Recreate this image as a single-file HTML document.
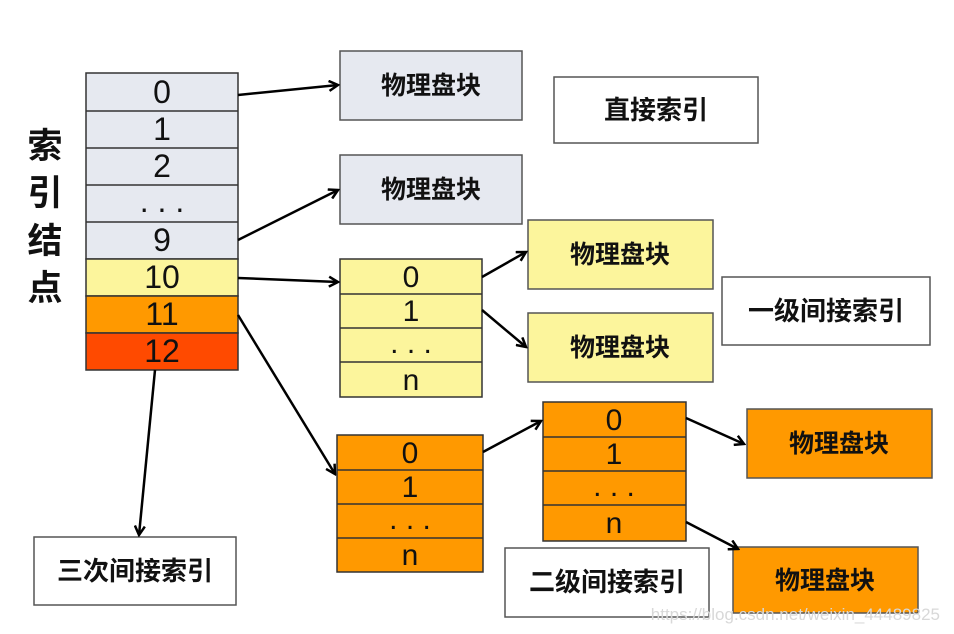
<!DOCTYPE html>
<html><head><meta charset="utf-8"><style>
html,body{margin:0;padding:0;background:#fff;}
svg{display:block;}
text{font-family:"Liberation Sans","Noto Sans CJK SC",sans-serif;fill:#111;}
.c{font-weight:bold;}
</style></head><body>
<svg width="954" height="634" viewBox="0 0 954 634" xmlns="http://www.w3.org/2000/svg">
<defs>
<marker id="a" markerWidth="12" markerHeight="12" refX="10" refY="6" orient="auto" markerUnits="userSpaceOnUse">
<path d="M1,1 L10,6 L1,11" fill="none" stroke="#000" stroke-width="2.5"/>
</marker>
</defs>
<rect width="954" height="634" fill="#fff"/>
<g font-size="35" text-anchor="middle" class="c">
<text x="45" y="158">索</text><text x="45" y="205">引</text><text x="45" y="253">结</text><text x="45" y="300">点</text>
</g>
<g stroke="#333" stroke-width="1.5">
<rect x="86" y="73" width="152" height="186" fill="#e6e9f0"/>
<line x1="86" y1="111" x2="238" y2="111"/><line x1="86" y1="148" x2="238" y2="148"/>
<line x1="86" y1="185" x2="238" y2="185"/><line x1="86" y1="222" x2="238" y2="222"/>
<rect x="86" y="259" width="152" height="37" fill="#fcf59c"/>
<rect x="86" y="296" width="152" height="37" fill="#ff9900"/>
<rect x="86" y="333" width="152" height="37" fill="#ff4a00"/>
</g>
<g font-size="32" text-anchor="middle" font-weight="500">
<text x="162" y="103">0</text><text x="162" y="140">1</text><text x="162" y="177">2</text>
<text x="162" y="212">. . .</text><text x="162" y="251">9</text>
<text x="162" y="288">10</text><text x="162" y="325">11</text><text x="162" y="362">12</text>
</g>
<g stroke="#555" stroke-width="1.5" fill="#e6e9f0">
<rect x="340" y="51" width="182" height="69"/><rect x="340" y="155" width="182" height="69"/>
</g>
<g font-size="25" text-anchor="middle" class="c">
<text x="431" y="94">物理盘块</text><text x="431" y="198">物理盘块</text>
</g>
<g stroke="#555" stroke-width="1.5" fill="#fff">
<rect x="554" y="77" width="204" height="66"/>
<rect x="722" y="277" width="208" height="68"/>
<rect x="505" y="548" width="204" height="69"/>
<rect x="34" y="537" width="202" height="68"/>
</g>
<g font-size="26" text-anchor="middle" class="c">
<text x="656" y="119">直接索引</text>
<text x="826" y="320">一级间接索引</text>
<text x="607" y="591">二级间接索引</text>
<text x="135" y="580">三次间接索引</text>
</g>
<g stroke="#333" stroke-width="1.5">
<rect x="340" y="259" width="142" height="138" fill="#fcf59c"/>
<line x1="340" y1="294" x2="482" y2="294"/><line x1="340" y1="328" x2="482" y2="328"/><line x1="340" y1="362" x2="482" y2="362"/>
</g>
<g font-size="30" text-anchor="middle" font-weight="500">
<text x="411" y="287">0</text><text x="411" y="321">1</text><text x="411" y="353">. . .</text><text x="411" y="390">n</text>
</g>
<g stroke="#555" stroke-width="1.5" fill="#fcf59c">
<rect x="528" y="220" width="185" height="69"/><rect x="528" y="313" width="185" height="69"/>
</g>
<g font-size="25" text-anchor="middle" class="c">
<text x="620" y="263">物理盘块</text><text x="620" y="356">物理盘块</text>
</g>
<g stroke="#333" stroke-width="1.5">
<rect x="337" y="435" width="146" height="137" fill="#ff9900"/>
<line x1="337" y1="470" x2="483" y2="470"/><line x1="337" y1="504" x2="483" y2="504"/><line x1="337" y1="538" x2="483" y2="538"/>
</g>
<g font-size="30" text-anchor="middle" font-weight="500">
<text x="410" y="463">0</text><text x="410" y="497">1</text><text x="410" y="529">. . .</text><text x="410" y="565">n</text>
</g>
<g stroke="#333" stroke-width="1.5">
<rect x="543" y="402" width="143" height="139" fill="#ff9900"/>
<line x1="543" y1="437" x2="686" y2="437"/><line x1="543" y1="471" x2="686" y2="471"/><line x1="543" y1="505" x2="686" y2="505"/>
</g>
<g font-size="30" text-anchor="middle" font-weight="500">
<text x="614" y="430">0</text><text x="614" y="464">1</text><text x="614" y="496">. . .</text><text x="614" y="533">n</text>
</g>
<g stroke="#555" stroke-width="1.5" fill="#ff9900">
<rect x="747" y="409" width="185" height="69"/><rect x="733" y="547" width="185" height="66"/>
</g>
<g font-size="25" text-anchor="middle" class="c">
<text x="839" y="452">物理盘块</text><text x="825" y="589">物理盘块</text>
</g>
<g stroke="#000" stroke-width="2.5" fill="none" marker-end="url(#a)">
<line x1="238" y1="95" x2="338" y2="85"/>
<line x1="238" y1="240" x2="338" y2="190"/>
<line x1="238" y1="278" x2="338" y2="282"/>
<line x1="238" y1="315" x2="335" y2="474"/>
<line x1="155" y1="370" x2="139" y2="535"/>
<line x1="482" y1="277" x2="526" y2="252"/>
<line x1="482" y1="310" x2="526" y2="347"/>
<line x1="483" y1="452" x2="541" y2="421"/>
<line x1="686" y1="418" x2="744" y2="444"/>
<line x1="686" y1="522" x2="738" y2="549"/>
</g>
<text x="940" y="620" font-size="17" text-anchor="end" style="fill:#d8d8d8">https://blog.csdn.net/weixin_44489825</text>
</svg>
</body></html>
